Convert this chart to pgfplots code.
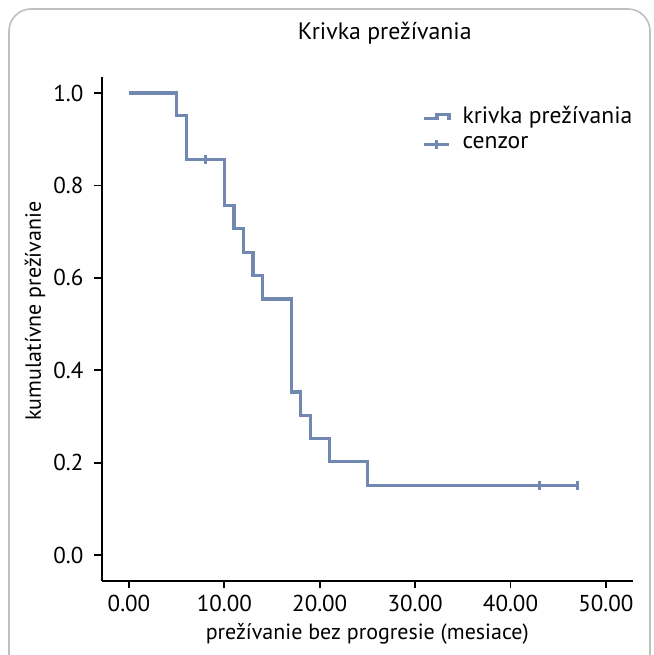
\documentclass[border=0pt]{standalone}
\usepackage{fontspec}
\setmainfont{PT Sans}
\usepackage{pgfplots}
\pgfplotsset{compat=1.18}
\definecolor{km}{HTML}{7189B0}
\begin{document}
\begin{tikzpicture}
\useasboundingbox (0,0) rectangle (327pt,327.5pt);
\draw[black!25, line width=0.8pt, rounded corners=11pt] (4.5pt,-20pt) rectangle (325pt,323pt);
\begin{axis}[
  at={(51pt,37.15pt)}, anchor=south west, scale only axis,
  width=265.3pt, height=251.9pt,
  xmin=-2.83, xmax=52.8, ymin=-0.0556, ymax=1.035,
  axis lines*=left,
  axis line style={line width=0.9pt, black},
  tick style={black, line width=0.9pt},
  tick align=outside, major tick length=3.8pt,
  xtick={0,10,20,30,40,50},
  ytick={0,0.2,0.4,0.6,0.8,1.0},
  /pgf/number format/assume math mode=true,
  xticklabel style={/pgf/number format/.cd, fixed, fixed zerofill, precision=2},
  yticklabel style={xshift=-2pt, /pgf/number format/.cd, fixed, fixed zerofill, precision=1},
  tick label style={font=\fontsize{11.5}{13}\selectfont},
  label style={font=\fontsize{11}{13}\selectfont},
  title={Krivka prežívania},
  title style={font=\fontsize{11.9}{14}\selectfont, at={(axis description cs:0.533,1.0635)}, anchor=center},
  xlabel={prežívanie bez progresie (mesiace)},
  xlabel style={at={(axis description cs:0.5,-0.105)}, anchor=center},
  ylabel={kumulatívne prežívanie},
  ylabel style={at={(axis description cs:-0.126,0.535)}, anchor=center},
  legend style={at={(rel axis cs:0.603,0.95)}, anchor=north west, draw=none, fill=none,
    font=\fontsize{11.8}{14}\selectfont, row sep=1pt, inner sep=0pt},
  legend cell align=left,
]
\addplot[km, line width=1.6pt, const plot,
  legend image code/.code={\draw[km, line width=1.6pt] (0pt,-1pt)--(6.5pt,-1pt)--(6.5pt,1.2pt)--(12.5pt,1.2pt)--(12.5pt,-1.8pt); \path (16.5pt,0pt);}]
  coordinates {(0,1) (5,0.952) (6,0.857) (10,0.756) (11,0.706) (12,0.655) (13,0.605) (14,0.554) (17,0.353) (18,0.302) (19,0.252) (21,0.202) (25,0.151) (47,0.151)};
\addlegendentry{krivka prežívania}
\addplot[km, line width=1.6pt, only marks, mark=|, mark size=2.2pt, mark options={line width=1.6pt},
  legend image code/.code={\draw[km, line width=1.6pt] (0pt,0pt)--(12.5pt,0pt); \draw[km, line width=1.6pt] (6.25pt,-2.2pt)--(6.25pt,2.2pt); \path (16.5pt,0pt);}]
  coordinates {(8,0.857) (43,0.151) (47,0.151)};
\addlegendentry{cenzor}
\end{axis}
\end{tikzpicture}
\end{document}
